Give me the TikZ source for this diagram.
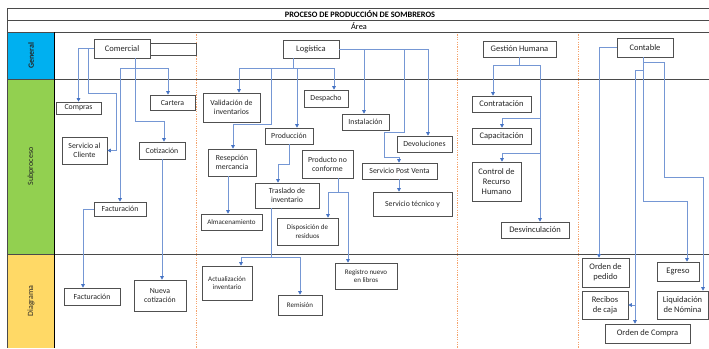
\documentclass[tikz,border=0pt]{standalone}
\usepackage{fontspec}
\setmainfont{Carlito}
\usetikzlibrary{arrows.meta}
\definecolor{cblue}{HTML}{4472C4}
\definecolor{clight}{HTML}{7597D4}
\definecolor{boxgray}{HTML}{505050}
\definecolor{framegray}{HTML}{4A4A4A}
\definecolor{genblue}{HTML}{00B0F0}
\definecolor{subgreen}{HTML}{92D050}
\definecolor{diayellow}{HTML}{FFD966}
\definecolor{dotorange}{HTML}{F4A36C}
\begin{document}
\begin{tikzpicture}[x=1pt,y=-1pt,
  box/.style={draw=boxgray, line width=0.7pt, fill=white, inner sep=0pt, align=center,
    font=\fontsize{7.8}{8.8}\selectfont, text=black!85},
  big/.style={font=\fontsize{8.5}{10}\selectfont},
  small/.style={font=\fontsize{7}{8.4}\selectfont},
  conn/.style={draw=clight, line width=0.6pt, -{Triangle[length=3.5pt,width=3.6pt,color=cblue]}},
  link/.style={draw=clight, line width=0.6pt},
  frame/.style={draw=framegray, line width=0.8pt},
  lanesep/.style={draw=dotorange, line width=0.8pt, dash pattern=on 1.2pt off 1.2pt},
  rowlabel/.style={rotate=90, font=\fontsize{8}{9}\selectfont, text=black!85}]
\useasboundingbox (0,0) rectangle (709,348);
\fill[white] (0,0) rectangle (709,348);

% label column
\fill[genblue] (7,32) rectangle (54,79);
\fill[subgreen] (7,79) rectangle (54,254);
\fill[diayellow] (7,254) rectangle (54,348);
\node[rowlabel, font=\fontsize{8}{9}\selectfont\bfseries] (lgen) at (31,55.5) {General};
\node[rowlabel] (lsub) at (31,166.5) {Subproceso};
\node[rowlabel] (ldia) at (31,301) {Diagrama};

% lane separators
\draw[lanesep] (196,32) -- (196,348);
\draw[lanesep] (457,32) -- (457,348);
\draw[lanesep] (578,32) -- (578,348);

% frame
\draw[frame] (7,8) -- (709,8);
\draw[frame] (7,20) -- (709,20);
\draw[frame] (7,32) -- (709,32);
\draw[frame] (7,79) -- (709,79);
\draw[frame] (7,254) -- (709,254);
\draw[frame] (7,8) -- (7,348);
\draw[draw=black, line width=1pt] (54,32) -- (54,348);
\node[font=\fontsize{8.3}{9}\selectfont\bfseries] (title) at (360,14.2) {PROCESO DE PRODUCCIÓN DE SOMBREROS};
\node[font=\fontsize{8.3}{9}\selectfont] (area) at (359,26.2) {Área};

% General row
\node[box, big, minimum width=56pt, minimum height=19pt] (comercial) at (122,48.5) {Comercial};
\node[box, minimum width=46pt, minimum height=12pt] (comext) at (173,49) {};
\node[box, big, minimum width=56pt, minimum height=18pt] (logistica) at (311,49) {Logística};
\node[box, big, minimum width=73pt, minimum height=16pt] (gestion) at (519.5,49) {Gestión Humana};
\node[box, big, minimum width=56pt, minimum height=19pt] (contable) at (645,47.5) {Contable};

% Subproceso - Comercial
\node[box, minimum width=45pt, minimum height=12pt] (compras) at (78.5,108) {Compras};
\node[box, minimum width=45pt, minimum height=15pt] (cartera) at (172.5,102.5) {Cartera};
\node[box, minimum width=45pt, minimum height=27pt] (servcli) at (84.5,150.5) {Servicio al\\Cliente};
\node[box, minimum width=46pt, minimum height=17pt] (cotiz) at (162,150.5) {Cotización};
\node[box, minimum width=52pt, minimum height=14pt] (factu) at (120,209) {Facturación};

% Subproceso - Logistica
\node[box, minimum width=57pt, minimum height=29pt] (valid) at (231.5,107.5) {Validación de\\inventarios};
\node[box, minimum width=44pt, minimum height=17pt] (despacho) at (326,98.5) {Despacho};
\node[box, minimum width=47pt, minimum height=16pt] (instal) at (365.5,122) {Instalación};
\node[box, minimum width=48pt, minimum height=16pt] (produc) at (289,136) {Producción};
\node[box, minimum width=55pt, minimum height=16pt] (devol) at (424.5,144) {Devoluciones};
\node[box, minimum width=48pt, minimum height=27pt] (resep) at (232,162.5) {Resepción\\mercancia};
\node[box, minimum width=51pt, minimum height=28pt] (pnc) at (327.5,164) {Producto no\\conforme};
\node[box, minimum width=75pt, minimum height=16pt] (spv) at (399.5,171) {Servicio Post Venta};
\node[box, minimum width=64pt, minimum height=25pt] (traslado) at (287,195.5) {Traslado de\\inventario};
\node[box, minimum width=79pt, minimum height=24pt] (stec) at (412.5,204) {Servicio técnico y};
\node[box, small, minimum width=61pt, minimum height=16pt] (almac) at (231.5,222) {Almacenamiento};
\node[box, small, minimum width=61pt, minimum height=27pt] (dispo) at (307.5,231.5) {Disposición de\\residuos};

% Subproceso - Gestion Humana
\node[box, big, minimum width=59pt, minimum height=16pt] (contrat) at (501.5,104) {Contratación};
\node[box, big, minimum width=59pt, minimum height=16pt] (capac) at (501.5,136) {Capacitación};
\node[box, big, minimum width=49pt, minimum height=39pt] (control) at (496.5,181.5) {Control de\\Recurso\\Humano};
\node[box, big, minimum width=68pt, minimum height=16pt] (desvin) at (535,230) {Desvinculación};

% Diagrama
\node[box, minimum width=56pt, minimum height=17pt] (factd) at (92,296.5) {Facturación};
\node[box, minimum width=52pt, minimum height=31pt] (nuevac) at (160,295.5) {Nueva\\cotización};
\node[box, small, minimum width=50pt, minimum height=34pt] (actual) at (227,283) {Actualización\\inventario};
\node[box, small, minimum width=44pt, minimum height=20pt] (remision) at (300,305) {Remisión};
\node[box, small, minimum width=62pt, minimum height=26pt] (registro) at (366,276) {Registro nuevo\\en libros};
\node[box, big, minimum width=47pt, minimum height=29pt] (ordped) at (605.5,272.5) {Orden de\\pedido};
\node[box, big, minimum width=46pt, minimum height=28pt] (recibos) at (605,305) {Recibos\\de caja};
\node[box, big, minimum width=85pt, minimum height=19pt] (ordcom) at (647.5,333.5) {Orden de Compra};
\node[box, big, minimum width=42pt, minimum height=19pt] (egreso) at (678,271.5) {Egreso};
\node[box, big, minimum width=51pt, minimum height=28pt] (liquid) at (682.5,305) {Liquidación\\de Nómina};

% Connectors - Comercial
\draw[conn] (comercial.west) -| (compras.north);
\draw[conn] (88,48.5) |- (116,93) |- (servcli.east);
\draw[conn] ([xshift=13pt]comercial.south) |- (164,121) -- ([xshift=2pt]cotiz.north);
\draw[conn] (120,68) -- (factu.north);
\draw[conn] (120,68) -| ([xshift=-4.5pt]cartera.north);
\draw[conn] (factu.west) -| ([xshift=-9pt]factd.north);
\draw[conn] (cotiz.south) -- ([xshift=2pt]nuevac.north);

% Connectors - Logistica
\draw[link] ([xshift=-18pt]logistica.south) -- (293,68);
\draw[link] (239,68) -- (334,68);
\draw[conn] (239,68) -- ([xshift=7.5pt]valid.north);
\draw[conn] (334,68) -- ([xshift=8pt]despacho.north);
\draw[conn] (271,68) |- (233,124) -- ([xshift=1pt]resep.north);
\draw[conn] (297,68) -- ([xshift=8pt]produc.north);
\draw[link] (logistica.east) -- (428,49);
\draw[conn] (364,49) -- ([xshift=-1.5pt]instal.north);
\draw[conn] (404,49) |- (384,132) |- (399,157) -- ([xshift=-0.5pt]spv.north);
\draw[conn] (428,49) -- ([xshift=3.5pt]devol.north);
\draw[conn] ([xshift=-0.5pt]spv.south) -- ([xshift=-13.5pt]stec.north);
\draw[conn] (produc.south) |- (278,164) -- ([xshift=-9pt]traslado.north);
\draw[conn] ([xshift=-4pt]resep.south) -- ([xshift=-3.5pt]almac.north);
\draw[link] ([xshift=10.5pt]pnc.south) -- (338,192);
\draw[conn] (338,192) -| ([xshift=20.5pt]dispo.north);
\draw[conn] (338,192) -| ([xshift=-18pt]registro.north);
\draw[link] ([xshift=-16pt]traslado.south) -- (271,257);
\draw[conn] (271,257) -| ([xshift=14pt]actual.north);
\draw[conn] (271,257) -| (remision.north);

% Connectors - Gestion Humana
\draw[link] (gestion.south) -- (519.5,65);
\draw[link] (493,65) -- (540,65);
\draw[conn] (493,65) -- ([xshift=-8.5pt]contrat.north);
\draw[conn] (540,65) -- ([xshift=5pt]desvin.north);
\draw[conn] (540,118) -| ([xshift=0.5pt]capac.north);
\draw[conn] (540,153) -| ([xshift=5.5pt]control.north);

% Connectors - Contable
\draw[conn] (contable.west) -| ([xshift=-6.5pt]ordped.north);
\draw[conn] ([xshift=-2pt]contable.south) |- (687,201) -- ([xshift=9pt]egreso.north);
\draw[conn] (643,62) -| (664,177) -| ([xshift=20.5pt]liquid.north);
\draw[conn] (643,70) -| ([xshift=-12.5pt]ordcom.north);
\draw[conn] (635,305) -- (recibos.east);
\end{tikzpicture}
\end{document}
